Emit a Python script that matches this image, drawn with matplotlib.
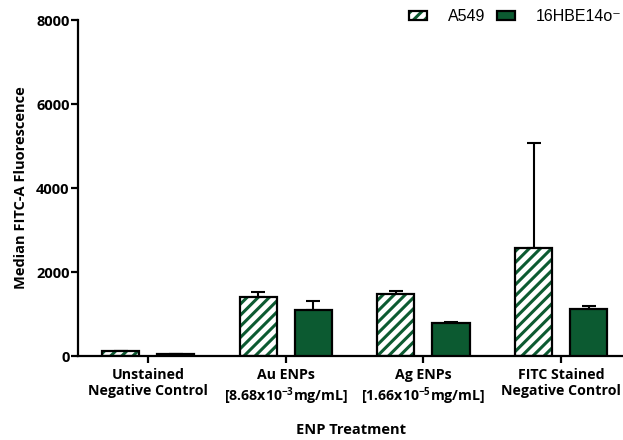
import matplotlib
matplotlib.use("Agg")
import matplotlib.pyplot as plt
import numpy as np

categories = ["Unstained\nNegative Control",
              "Au ENPs\n[8.68x10$^{-3}$mg/mL]",
              "Ag ENPs\n[1.66x10$^{-5}$mg/mL]",
              "FITC Stained\nNegative Control"]
a549 = [120, 1410, 1480, 2580]
a549_err = [0, 120, 70, 2480]
hbe = [40, 1100, 780, 1120]
hbe_err = [0, 210, 30, 70]
series_names = ["A549", "16HBE14o\u207b"]

green = "#0c5a31"
FONT = "Open Sans"
FS = 10.5
FS_CAT = 10.2
plt.rcParams['hatch.linewidth'] = 2.2
plt.rcParams['mathtext.default'] = 'regular'

fig = plt.figure(figsize=(6.23, 4.40), dpi=100)
ax = fig.add_axes([78/623, 1-356/440, 1-78/623, (356-20)/440])

x = np.arange(len(categories))
w = 0.27
off = 0.2

# A549 hatched bars: hatch layer then black outline
ax.bar(x - off, a549, w, color="white", edgecolor=green, hatch="///", linewidth=0, zorder=2)
ax.bar(x - off, a549, w, fill=False, edgecolor="black", linewidth=1.6, zorder=3)
ax.bar(x + off, hbe, w, color=green, edgecolor="black", linewidth=1.6, zorder=3)

ax.errorbar(x - off, a549, yerr=[np.zeros(4), a549_err], fmt="none", ecolor="black",
            elinewidth=1.5, capsize=5, capthick=1.5, zorder=1)
ax.errorbar(x + off, hbe, yerr=[np.zeros(4), hbe_err], fmt="none", ecolor="black",
            elinewidth=1.5, capsize=5, capthick=1.5, zorder=1)

ax.set_xlim(-0.51, 3.45)
ax.set_ylim(0, 8000)
ax.set_yticks([0, 2000, 4000, 6000, 8000])
ax.set_xticks(x)
ax.set_xticklabels(categories, fontfamily=FONT, fontweight="bold", fontsize=FS_CAT,
                   linespacing=1.2)
for lab in ax.get_yticklabels():
    lab.set_fontfamily(FONT); lab.set_fontweight("bold"); lab.set_fontsize(FS)

for s in ["top", "right"]:
    ax.spines[s].set_visible(False)
for s in ["left", "bottom"]:
    ax.spines[s].set_linewidth(1.6)
ax.tick_params(axis="both", width=1.6, length=5, direction="out", pad=1.0)
ax.tick_params(axis="x", pad=3.5)

ax.set_ylabel("Median FITC-A Fluorescence", fontfamily=FONT, fontweight="bold",
              fontsize=FS, labelpad=6)
ax.set_xlabel("ENP Treatment", fontfamily=FONT, fontweight="bold", fontsize=FS,
              labelpad=12)

from matplotlib.patches import Patch
h1 = Patch(facecolor="white", edgecolor=green, hatch="///", linewidth=0)
h1b = Patch(facecolor="none", edgecolor="black", linewidth=1.6)
h2 = Patch(facecolor=green, edgecolor="black", linewidth=1.6)
leg = ax.legend([(h1, h1b), h2], series_names, ncol=2, frameon=False,
                loc="upper right", bbox_to_anchor=(1.023, 1.075),
                prop={"family": ["Liberation Sans", "DejaVu Sans"], "size": 11.5},
                handlelength=1.1, handleheight=0.55, columnspacing=0.75, handletextpad=1.3)

fig.savefig("out.png", dpi=100)
